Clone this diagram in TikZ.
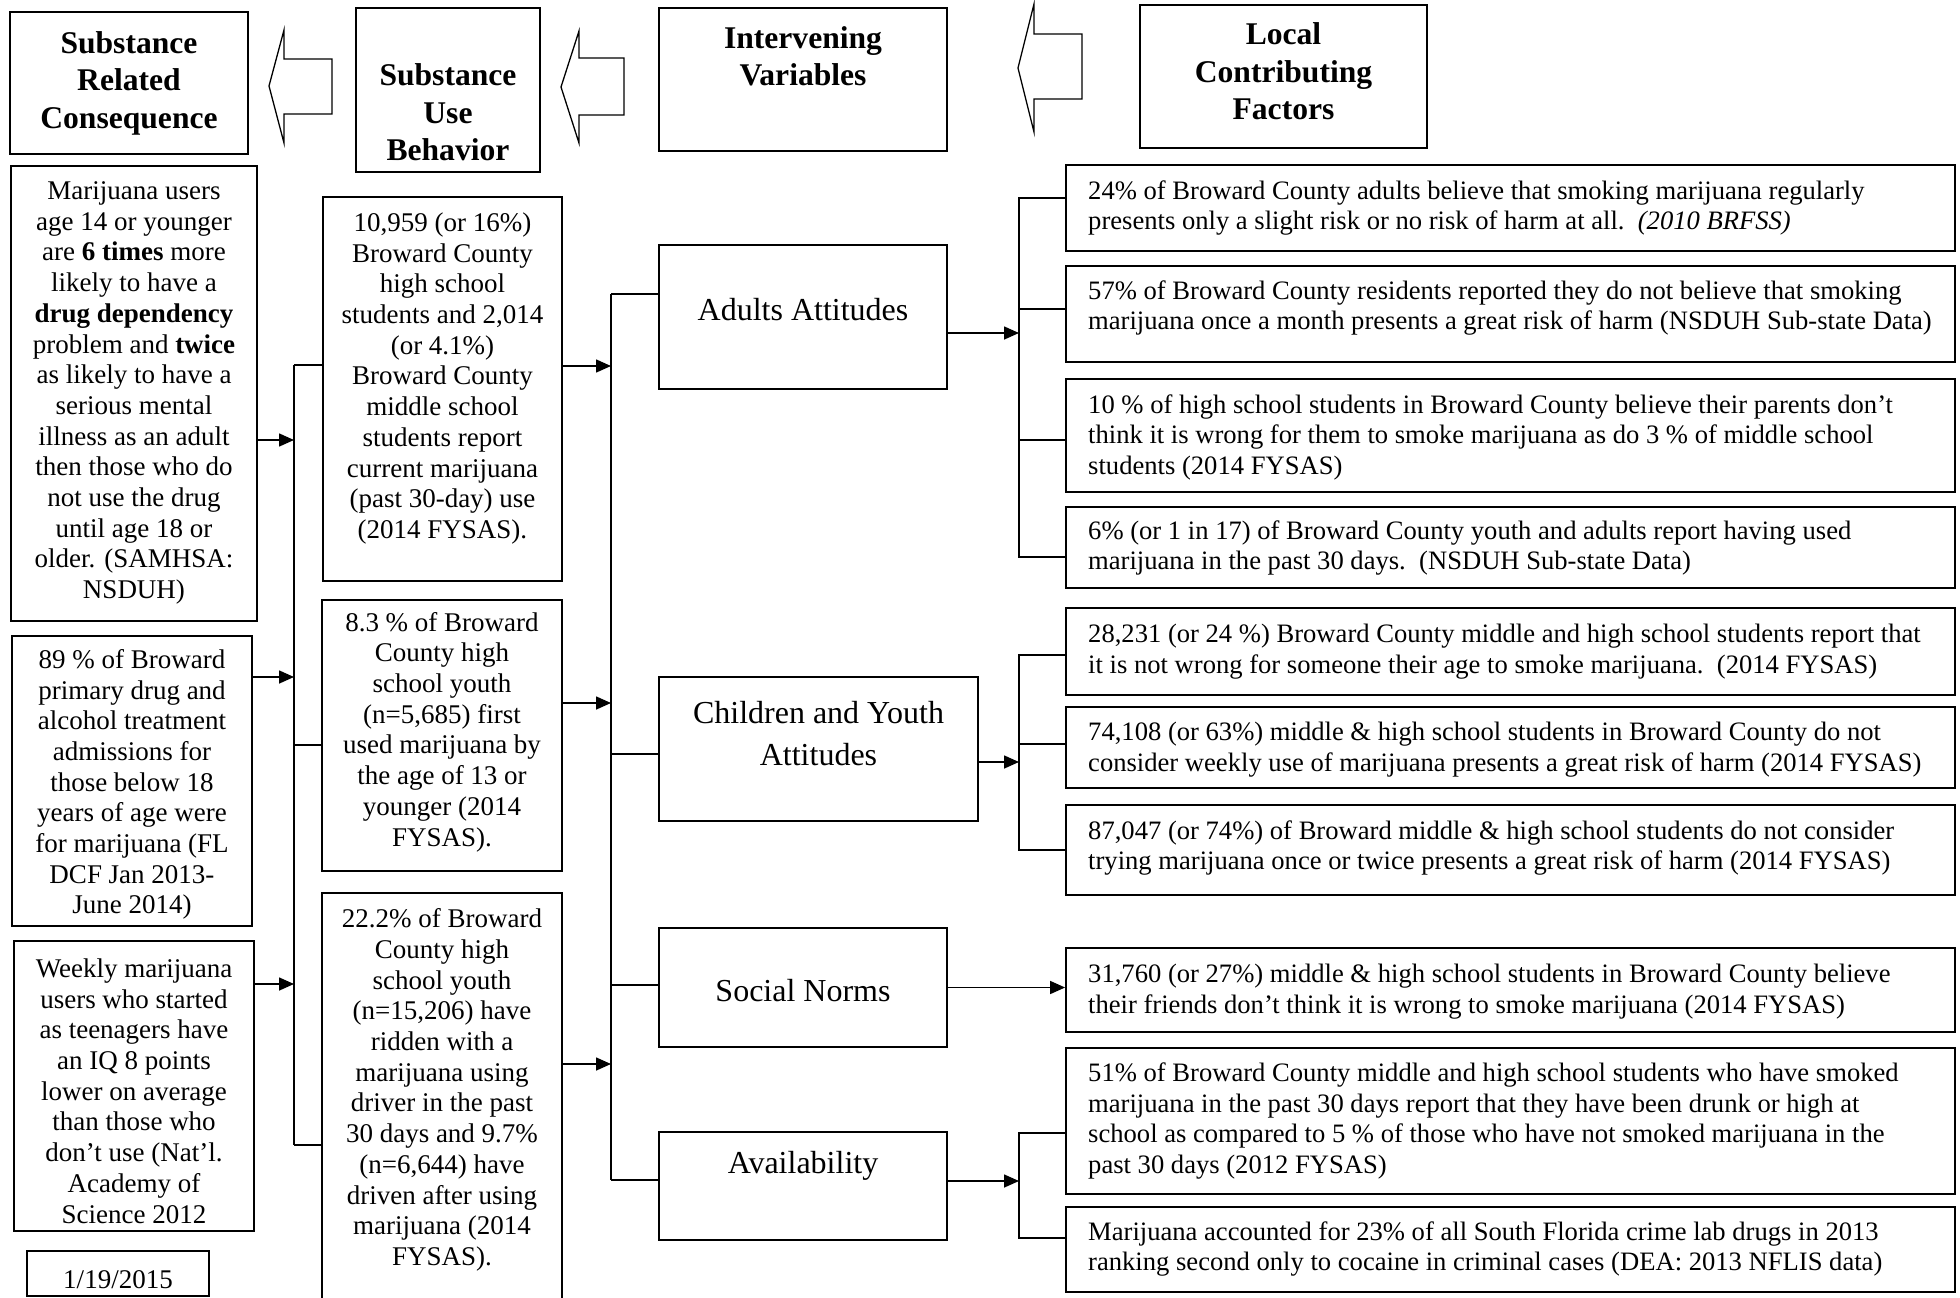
\documentclass[tikz,border=0pt]{standalone}
\usepackage{fontspec}
\setmainfont{Liberation Serif}
\usetikzlibrary{arrows.meta}
\tikzset{
  >={Triangle[length=15pt,width=13pt]},
  box/.style={draw,line width=1.8pt,inner sep=0pt},
  hdr/.style={align=center,inner sep=0pt,font=\fontsize{31.6}{37.5}\selectfont\bfseries},
  var/.style={align=center,inner sep=0pt,font=\fontsize{32}{42}\selectfont},
  body/.style={align=center,inner sep=0pt,font=\fontsize{27}{30.7}\selectfont},
  side/.style={align=left,anchor=west,inner sep=0pt,font=\fontsize{26.6}{30.5}\selectfont},
  link/.style={line width=1.6pt},
  flow/.style={->,line width=1.6pt},
  hollow/.style={draw,line width=1.3pt,fill=white}
}

\begin{document}
\begin{tikzpicture}[x=1pt,y=-1pt]
  \fill[white] (0,0) rectangle (1960,1298);
  \useasboundingbox (0,0) rectangle (1960,1298);

  % header row
  \node[box,minimum width=238,minimum height=142] (src) at (129,83) {};
  \node[hdr] (srct) at (129,83) {Substance\\Related\\Consequence};
  \node[box,minimum width=184,minimum height=164] (sub) at (448,90) {};
  \node[hdr] (subt) at (448,112.5) {Substance\\Use\\Behavior};
  \node[box,minimum width=288,minimum height=143] (ivar) at (803,79.5) {};
  \node[hdr] (ivart) at (803,56.5) {Intervening\\Variables};
  \node[box,minimum width=287,minimum height=143] (lcf) at (1283.5,76.5) {};
  \node[hdr] (lcft) at (1283.5,71.5) {Local\\Contributing\\Factors};
  \draw[hollow] (332,59) -- (284,59) -- (284,30) -- (269,86) -- (284,143) -- (284,114) -- (332,114) -- cycle;
  \draw[hollow] (624,58) -- (579,58) -- (579,31) -- (561,87) -- (579,143) -- (579,115) -- (624,115) -- cycle;
  \draw[hollow] (1082,34) -- (1034,34) -- (1034,4) -- (1018,68) -- (1034,132) -- (1034,99) -- (1082,99) -- cycle;

  % consequences
  \node[box,minimum width=246,minimum height=455] (c1) at (134,393.5) {};
  \node[body] (c1t) at (134,393) {Marijuana users\\age 14 or younger\\are \textbf{6 times} more\\likely to have a\\\textbf{drug dependency}\\problem and \textbf{twice}\\as likely to have a\\serious mental\\illness as an adult\\then those who do\\not use the drug\\until age 18 or\\older. (SAMHSA:\\NSDUH)};
  \node[box,minimum width=240,minimum height=290] (c2) at (132,781) {};
  \node[body] (c2t) at (132,784.5) {89 \% of Broward\\primary drug and\\alcohol treatment\\admissions for\\those below 18\\years of age were\\for marijuana (FL\\DCF Jan 2013-\\June 2014)};
  \node[box,minimum width=240,minimum height=290] (c3) at (134,1086) {};
  \node[body] (c3t) at (134,1091) {Weekly marijuana\\users who started\\as teenagers have\\an IQ 8 points\\lower on average\\than those who\\don’t use (Nat’l.\\Academy of\\Science 2012};
  \node[box,minimum width=182,minimum height=45] (date) at (118,1273.5) {};
  \node[body] (datet) at (118,1280) {1/19/2015};

  % use behavior
  \node[box,minimum width=239,minimum height=384] (b1) at (442.5,389) {};
  \node[body] (b1t) at (442.5,378.5) {10,959 (or 16\%)\\Broward County\\high school\\students and 2,014\\(or 4.1\%)\\Broward County\\middle school\\students report\\current marijuana\\(past 30-day) use\\(2014 FYSAS).};
  \node[box,minimum width=240,minimum height=271] (b2) at (442,735.5) {};
  \node[body] (b2t) at (442,732) {8.3 \% of Broward\\County high\\school youth\\(n=5,685) first\\used marijuana by\\the age of 13 or\\younger (2014\\FYSAS).};
  \node[box,minimum width=240,minimum height=437] (b3) at (442,1111.5) {};
  \node[body] (b3t) at (442,1090) {22.2\% of Broward\\County high\\school youth\\(n=15,206) have\\ridden with a\\marijuana using\\driver in the past\\30 days and 9.7\%\\(n=6,644) have\\driven after using\\marijuana (2014\\FYSAS).};

  % intervening variables
  \node[box,minimum width=288,minimum height=144] (adult) at (803,317) {};
  \node[var] (adultt) at (803,310) {Adults Attitudes};
  \node[box,minimum width=319,minimum height=144] (youth) at (818.5,749) {};
  \node[var] (youtht) at (818.5,734) {Children and Youth\\Attitudes};
  \node[box,minimum width=288,minimum height=119] (norms) at (803,987.5) {};
  \node[var] (normst) at (803,991) {Social Norms};
  \node[box,minimum width=288,minimum height=108] (avail) at (803,1186) {};
  \node[var] (availt) at (803,1166) {Availability};

  % local contributing factors
  \node[box,minimum width=889,minimum height=86] (r1) at (1510.5,208) {};
  \node[side] (r1t) at (1088,208) {24\% of Broward County adults believe that smoking marijuana regularly\\presents only a slight risk or no risk of harm at all.\enspace\textit{(2010 BRFSS)}};
  \node[box,minimum width=889,minimum height=96] (r2) at (1510.5,314) {};
  \node[side] (r2t) at (1088,308) {57\% of Broward County residents reported they do not believe that smoking\\marijuana once a month presents a great risk of harm (NSDUH Sub-state Data)};
  \node[box,minimum width=889,minimum height=113] (r3) at (1510.5,435.5) {};
  \node[side] (r3t) at (1088,437) {10 \% of high school students in Broward County believe their parents don’t\\think it is wrong for them to smoke marijuana as do 3 \% of middle school\\students (2014 FYSAS)};
  \node[box,minimum width=889,minimum height=81] (r4) at (1510.5,547.5) {};
  \node[side] (r4t) at (1088,548) {6\% (or 1 in 17) of Broward County youth and adults report having used\\marijuana in the past 30 days.\enspace(NSDUH Sub-state Data)};
  \node[box,minimum width=889,minimum height=87] (r5) at (1510.5,651.5) {};
  \node[side] (r5t) at (1088,651.5) {28,231 (or 24 \%) Broward County middle and high school students report that\\it is not wrong for someone their age to smoke marijuana.\enspace(2014 FYSAS)};
  \node[box,minimum width=889,minimum height=81] (r6) at (1510.5,747.5) {};
  \node[side] (r6t) at (1088,749.5) {74,108 (or 63\%) middle \& high school students in Broward County do not\\consider weekly use of marijuana presents a great risk of harm (2014 FYSAS)};
  \node[box,minimum width=889,minimum height=90] (r7) at (1510.5,850) {};
  \node[side] (r7t) at (1088,848) {87,047 (or 74\%) of Broward middle \& high school students do not consider\\trying marijuana once or twice presents a great risk of harm (2014 FYSAS)};
  \node[box,minimum width=889,minimum height=84] (r8) at (1510.5,990) {};
  \node[side] (r8t) at (1088,991.5) {31,760 (or 27\%) middle \& high school students in Broward County believe\\their friends don’t think it is wrong to smoke marijuana (2014 FYSAS)};
  \node[box,minimum width=889,minimum height=146] (r9) at (1510.5,1121) {};
  \node[side] (r9t) at (1088,1121) {51\% of Broward County middle and high school students who have smoked\\marijuana in the past 30 days report that they have been drunk or high at\\school as compared to 5 \% of those who have not smoked marijuana in the\\past 30 days (2012 FYSAS)};
  \node[box,minimum width=889,minimum height=85] (r10) at (1510.5,1249.5) {};
  \node[side] (r10t) at (1088,1249) {Marijuana accounted for 23\% of all South Florida crime lab drugs in 2013\\ranking second only to cocaine in criminal cases (DEA: 2013 NFLIS data)};

  % left bus
  \coordinate (lt) at (294,365); \coordinate (lm) at (294,745); \coordinate (lb) at (294,1145);
  \coordinate (j1) at (294,440); \coordinate (j2) at (294,677); \coordinate (j3) at (294,984);
  \draw[link] (lt) -- (lb);
  \draw[link] (lt) -- (lt -| b1.west);
  \draw[link] (lm) -- (lm -| b2.west);
  \draw[link] (lb) -- (lb -| b3.west);
  \draw[flow] (c1.east |- j1) -- (j1);
  \draw[flow] (c2.east |- j2) -- (j2);
  \draw[flow] (c3.east |- j3) -- (j3);

  % middle bus
  \coordinate (mt) at (611,294); \coordinate (mc) at (611,754);
  \coordinate (ms) at (611,985); \coordinate (mb) at (611,1180);
  \coordinate (k1) at (611,366); \coordinate (k2) at (611,703); \coordinate (k3) at (611,1064);
  \draw[link] (mt) -- (mb);
  \draw[link] (mt) -- (mt -| adult.west);
  \draw[link] (mc) -- (mc -| youth.west);
  \draw[link] (ms) -- (ms -| norms.west);
  \draw[link] (mb) -- (mb -| avail.west);
  \draw[flow] (b1.east |- k1) -- (k1);
  \draw[flow] (b2.east |- k2) -- (k2);
  \draw[flow] (b3.east |- k3) -- (k3);

  % right brackets
  \coordinate (ra) at (1019,333); \coordinate (rc) at (1019,762); \coordinate (rv) at (1019,1181);
  \draw[link] ([yshift=10pt]r1.west) -| (ra);
  \draw[link] ([yshift=5pt]r2.west) -| (ra);
  \draw[link] ([yshift=-4.5pt]r3.west) -| (ra);
  \draw[link] ([yshift=-9.5pt]r4.west) -| (ra);
  \draw[flow] (adult.east |- ra) -- (ra);
  \draw[link] ([yshift=-3.5pt]r5.west) -| (rc);
  \draw[link] ([yshift=3.5pt]r6.west) -| (rc);
  \draw[link] (r7.west) -| (rc);
  \draw[flow] (youth.east |- rc) -- (rc);
  \draw[flow] (norms.east) -- (norms.east -| r8.west);
  \draw[link] ([yshift=-12pt]r9.west) -| (rv);
  \draw[link] ([yshift=11.5pt]r10.west) -| (rv);
  \draw[flow] (avail.east |- rv) -- (rv);
\end{tikzpicture}
\end{document}
